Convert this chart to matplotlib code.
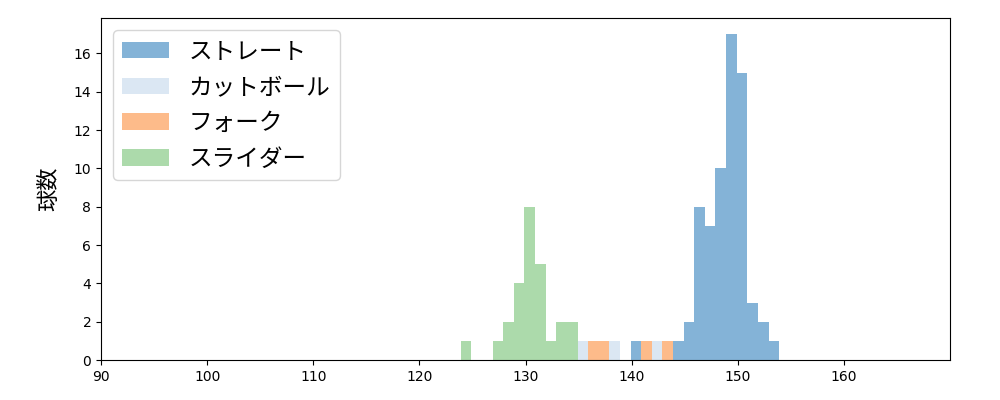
import numpy as np
import matplotlib.pyplot as plt

plt.rcParams['font.family'] = ['DejaVu Sans', 'Noto Sans CJK JP']

# 球速ごとの本数（ビン左端: 本数）
bin_start = 123.9
bin_width = 1.0
n_bins = 30

names = ["ストレート", "カットボール", "フォーク", "スライダー"]
colors = ["#84b3d7", "#dbe7f3", "#fdbb8a", "#acdaab"]

straight_speed = [139.9, 143.9, 144.9, 145.9, 146.9, 147.9, 148.9, 149.9, 150.9, 151.9, 152.9]
straight_count = [1, 1, 2, 8, 7, 10, 17, 15, 3, 2, 1]
cutter_speed = [134.9, 137.9, 141.9]
cutter_count = [1, 1, 1]
fork_speed = [135.9, 136.9, 140.9, 142.9]
fork_count = [1, 1, 1, 1]
slider_speed = [123.9, 126.9, 127.9, 128.9, 129.9, 130.9, 131.9, 132.9, 133.9]
slider_count = [1, 1, 2, 4, 8, 5, 1, 2, 2]

speeds = [straight_speed, cutter_speed, fork_speed, slider_speed]
counts = [straight_count, cutter_count, fork_count, slider_count]

edges = bin_start + bin_width * np.arange(n_bins + 1)

fig = plt.figure(figsize=(10, 4), dpi=100)
ax = fig.add_axes([0.101, 0.1, 0.849, 0.855])

for name, c, s, n in zip(names, colors, speeds, counts):
    centers = np.array(s) + bin_width / 2
    ax.hist(centers, bins=edges, weights=n, color=c, label=name)

ax.set_xlim(90, 170)
ax.set_ylim(0, 17.85)
ax.set_xticks([90, 100, 110, 120, 130, 140, 150, 160])
ax.set_yticks(range(0, 17, 2))
ax.set_ylabel("球数", fontsize=16, labelpad=10)
ax.tick_params(labelsize=10)
ax.legend(loc="upper left", fontsize=17)

fig.savefig("out.png", dpi=100)
